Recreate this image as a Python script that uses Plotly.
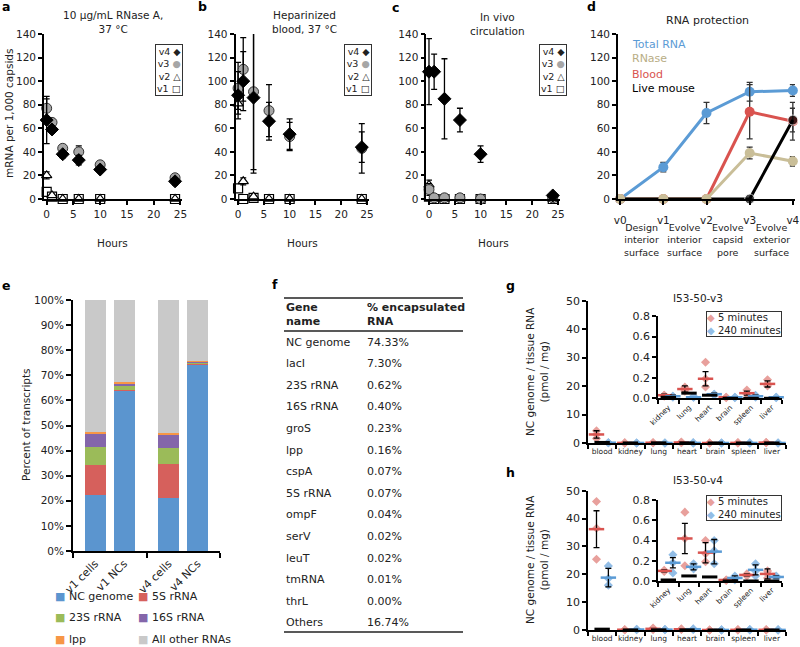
import plotly.graph_objects as go

FONT = "DejaVu Sans"
INK = "#222222"
W, H = 800, 647

# ---------------- a, b, c : mRNA per 1,000 capsids vs hours
hours = [0, 1, 3, 6, 10, 24]

a_v4 = [67, 59, 38, 33, 25, 15]
a_v4_err = [20, 3, 3, 4, 2, 3]
a_v3 = [77, 65, 43, 40, 29, 18]
a_v3_err = [8, 3, 3, 5, 2, 2]
a_v2 = [20, 3, 0, 0, 0, 0]
a_v2_err = [3, 1, 0, 0, 0, 0]
a_v1 = [6, 2, 0, 0, 0, 0]
a_v1_err = [1, 1, 0, 0, 0, 0]

b_v4 = [88, 100, 86, 66, 55, 44]
b_v4_err = [20, 25, 64, 16, 13, 13]
b_v3 = [94, 110, 91, 75, 53, 43]
b_v3_err = [22, 27, 66, 22, 12, 21]
b_v2 = [81, 15, 2, 0, 0, 0]
b_v2_err = [5, 3, 1, 0, 0, 0]
b_v1 = [9, 0, 1, 0, 0, 0]
b_v1_err = [1, 1, 1, 0, 0, 0]

c_v4 = [108, 108, 85, 67, 38, 3]
c_v4_err = [28, 15, 34, 10, 7, 1]
c_v3 = [8, 1, 1, 1, 0, 1]
c_v3_err = [5, 3, 3, 3, 3, 1]
c_v2 = [12, 0, 0, 0, 0, 0]
c_v2_err = [4, 0, 0, 0, 0, 0]
c_v1 = [2, 0, 0, 0, 0, 0]
c_v1_err = [1, 0, 0, 0, 0, 0]

# ---------------- d : RNA protection
stages = ["v0", "v1", "v2", "v3", "v4"]
d_steps = ["Design<br>interior<br>surface", "Evolve<br>interior<br>surface",
           "Evolve<br>capsid<br>pore", "Evolve<br>exterior<br>surface"]
d_total = [0, 27, 73, 91, 92]
d_total_err = [0, 4, 9, 8, 5]
d_rnase = [0, 0, 0, 39, 32]
d_rnase_err = [0, 0, 0, 5, 4]
d_blood = [0, 0, 0, 74, 66]
d_blood_err = [0, 0, 0, 23, 16]
d_mouse = [0, 0, 0, 0, 67]
d_mouse_err = [0, 0, 0, 0, 10]

# ---------------- e : percent of transcripts
e_samples = ["v1 cells", "v1 NCs", "v4 cells", "v4 NCs"]
e_nc_genome = [22.5, 64.1, 21.3, 74.3]
e_5s = [11.8, 0.2, 13.2, 0.3]
e_23s = [7.0, 1.5, 6.7, 0.5]
e_16s = [5.5, 0.6, 5.2, 0.3]
e_lpp = [0.7, 1.0, 0.5, 0.2]
e_other = [52.5, 32.6, 53.1, 24.4]

# ---------------- f : table
f_genes = ["NC genome", "lacI", "23S rRNA", "16S rRNA", "groS", "lpp", "cspA",
           "5S rRNA", "ompF", "serV", "leuT", "tmRNA", "thrL", "Others"]
f_pct = [74.33, 7.30, 0.62, 0.40, 0.23, 0.16, 0.07, 0.07, 0.04, 0.02, 0.02,
         0.01, 0.00, 16.74]

# ---------------- g, h : biodistribution
tissues = ["blood", "kidney", "lung", "heart", "brain", "spleen", "liver"]

g_5_mean = [3.0, 0.03, 0.09, 0.19, 0.01, 0.05, 0.14]
g_5_err = [1.3, 0.01, 0.03, 0.07, 0.005, 0.02, 0.03]
g_5_pts = [[4.3, 1.6, 3.0], [0.03, 0.02, 0.03], [0.11, 0.07, 0.09],
           [0.35, 0.19, 0.11], [0.01, 0.005, 0.01], [0.08, 0.05, 0.04],
           [0.18, 0.14, 0.12]]
g_240_mean = [0.1, 0.02, 0.01, 0.04, 0.01, 0.02, 0.01]
g_240_err = [0.05, 0.01, 0.005, 0.01, 0.005, 0.01, 0.005]
g_240_pts = [[0.1, 0.1, 0.1], [0.02, 0.01, 0.02], [0.01, 0.01, 0.02],
             [0.04, 0.03, 0.04], [0.01, 0.01, 0.005], [0.03, 0.01, 0.02],
             [0.01, 0.01, 0.005]]
g_ctrl = [0.2, 0.01, 0.05, 0.03, 0.0, 0.0, 0.0]

h_5_mean = [36.2, 0.10, 0.42, 0.28, 0.01, 0.06, 0.07]
h_5_err = [6.6, 0.01, 0.15, 0.10, 0.005, 0.01, 0.05]
h_5_pts = [[46.1, 36.5, 25.4], [0.10, 0.095, 0.105], [0.68, 0.42, 0.15],
           [0.40, 0.27, 0.19], [0.01, 0.01, 0.005], [0.07, 0.06, 0.05],
           [0.10, 0.07, 0.03]]
h_240_mean = [18.8, 0.18, 0.14, 0.29, 0.03, 0.11, 0.04]
h_240_err = [3.3, 0.05, 0.03, 0.12, 0.02, 0.05, 0.01]
h_240_pts = [[23.0, 18.5, 16.1], [0.26, 0.18, 0.08], [0.17, 0.12, 0.14],
             [0.40, 0.30, 0.17], [0.05, 0.01, 0.03], [0.17, 0.10, 0.05],
             [0.05, 0.03, 0.04]]
h_ctrl = [0.3, 0.01, 0.05, 0.04, 0.0, 0.0, 0.0]


def px(x):
    return x / W


def py(y):
    return (H - y) / H


def note(text, x, y, size=10.5, xanchor="center", yanchor="middle", **kw):
    d = dict(text=text, x=px(x), y=py(y), xref="paper", yref="paper",
             showarrow=False, xanchor=xanchor, yanchor=yanchor,
             font=dict(family=FONT, size=size, color=kw.pop("color", INK)))
    d.update(kw)
    return d


def errs(arr, color="black"):
    return dict(type="data", array=arr, visible=True, color=color,
                thickness=1.3, width=3)


fig = go.Figure()

# ---- a, b, c
variant_style = {
    "v4": dict(symbol="diamond", color="black", size=10, line=dict(color="black", width=1)),
    "v3": dict(symbol="circle", color="#A6A6A6", size=10, line=dict(color="#333333", width=1)),
    "v2": dict(symbol="triangle-up", color="white", size=9, line=dict(color="black", width=1.2)),
    "v1": dict(symbol="square", color="white", size=9, line=dict(color="black", width=1.2)),
}
time_panels = [
    ("x", "y", [("v1", a_v1, a_v1_err), ("v2", a_v2, a_v2_err),
                ("v3", a_v3, a_v3_err), ("v4", a_v4, a_v4_err)]),
    ("x2", "y2", [("v1", b_v1, b_v1_err), ("v2", b_v2, b_v2_err),
                  ("v3", b_v3, b_v3_err), ("v4", b_v4, b_v4_err)]),
    ("x3", "y3", [("v1", c_v1, c_v1_err), ("v2", c_v2, c_v2_err),
                  ("v3", c_v3, c_v3_err), ("v4", c_v4, c_v4_err)]),
]
for xa, ya, series in time_panels:
    for name, vals, err in series:
        fig.add_trace(go.Scatter(
            x=hours, y=vals, mode="markers", name=name, xaxis=xa, yaxis=ya,
            marker=variant_style[name], error_y=errs(err), cliponaxis=False))

# ---- d
BLUE, TAN, RED = "#5B9BD5", "#C9BE98", "#D9534F"
d_x = list(range(len(stages)))
fig.add_trace(go.Scatter(x=d_x, y=d_total, mode="lines+markers", xaxis="x4", yaxis="y4",
                         line=dict(color=BLUE, width=3), marker=dict(color=BLUE, size=10),
                         error_y=errs(d_total_err, "#333333"), cliponaxis=False))
fig.add_trace(go.Scatter(x=d_x, y=d_blood, mode="lines+markers", xaxis="x4", yaxis="y4",
                         line=dict(color=RED, width=3), marker=dict(color=RED, size=10),
                         error_y=errs(d_blood_err, "#333333"), cliponaxis=False))
fig.add_trace(go.Scatter(x=d_x, y=d_rnase, mode="lines", xaxis="x4", yaxis="y4",
                         line=dict(color=TAN, width=3), cliponaxis=False))
fig.add_trace(go.Scatter(x=d_x, y=d_mouse, mode="lines+markers", xaxis="x4", yaxis="y4",
                         line=dict(color="black", width=3),
                         marker=dict(color="black", size=[0, 0, 0, 10, 10]),
                         error_y=errs(d_mouse_err, "#333333"), cliponaxis=False))
fig.add_trace(go.Scatter(x=d_x, y=d_rnase, mode="markers", xaxis="x4", yaxis="y4",
                         marker=dict(color=TAN, size=10),
                         error_y=errs(d_rnase_err, "#333333"), cliponaxis=False))

# ---- e
e_names = ["NC genome", "5S rRNA", "23S rRNA", "16S rRNA", "lpp", "All other RNAs"]
e_colors = ["#5B95CF", "#D6605C", "#9BBB59", "#8466AA", "#F79646", "#C9C9C9"]
e_values = [e_nc_genome, e_5s, e_23s, e_16s, e_lpp, e_other]
e_x = [grp + 0.5 + side * 0.197 for grp in (0, 1) for side in (-1, 1)]
for name, vals, col in zip(e_names, e_values, e_colors):
    fig.add_trace(go.Bar(x=e_x, y=vals, name=name, xaxis="x5", yaxis="y5",
                         width=0.286, marker=dict(color=col, line=dict(width=0))))

# ---- g, h
LRED, LBLUE = "#E8A09C", "#92BDE6"
OFF_5, OFF_240, OFF_C = 0.3, 0.72, 0.5


def organ_traces(xa, ya, idx, m5, e5, p5, m240, e240, p240, ctrl):
    pos = range(len(idx))
    for off, pts, col in ((OFF_5, p5, LRED), (OFF_240, p240, LBLUE)):
        xs, ys = [], []
        for k, i in zip(pos, idx):
            xs += [k + off] * len(pts[i])
            ys += pts[i]
        fig.add_trace(go.Scatter(x=xs, y=ys, mode="markers", xaxis=xa, yaxis=ya,
                                 marker=dict(symbol="diamond", size=7, color=col),
                                 cliponaxis=False))
    for off, m, e, col in ((OFF_5, m5, e5, RED), (OFF_240, m240, e240, BLUE)):
        fig.add_trace(go.Scatter(
            x=[k + off for k in pos], y=[m[i] for i in idx], mode="markers",
            xaxis=xa, yaxis=ya, cliponaxis=False,
            marker=dict(symbol="line-ew", size=11, line=dict(color=col, width=2.5)),
            error_y=errs([e[i] for i in idx])))
    fig.add_trace(go.Scatter(
        x=[k + OFF_C for k in pos], y=[ctrl[i] for i in idx], mode="markers",
        xaxis=xa, yaxis=ya, cliponaxis=False,
        marker=dict(symbol="line-ew", size=11, line=dict(color="black", width=3))))


all_idx = list(range(len(tissues)))
inset_idx = all_idx[1:]
organ_traces("x6", "y6", all_idx, g_5_mean, g_5_err, g_5_pts, g_240_mean, g_240_err, g_240_pts, g_ctrl)
organ_traces("x7", "y7", inset_idx, g_5_mean, g_5_err, g_5_pts, g_240_mean, g_240_err, g_240_pts, g_ctrl)
organ_traces("x8", "y8", all_idx, h_5_mean, h_5_err, h_5_pts, h_240_mean, h_240_err, h_240_pts, h_ctrl)
organ_traces("x9", "y9", inset_idx, h_5_mean, h_5_err, h_5_pts, h_240_mean, h_240_err, h_240_pts, h_ctrl)

# ---------------- axes
base = dict(showline=True, linecolor="black", linewidth=1.8, ticks="outside",
            ticklen=4, tickwidth=1.5, tickcolor="black", showgrid=False,
            zeroline=False, automargin=False,
            tickfont=dict(family=FONT, size=10.5, color=INK))


def ax(**kw):
    d = dict(base)
    d.update(kw)
    return d


minor_ticks = dict(ticks="outside", tick0=0, dtick=1, ticklen=4, tickwidth=1.5,
                   tickcolor="black")
abc_y = [py(199), py(34)]
layout_axes = dict(
    xaxis=ax(domain=[px(44), px(182)], range=[-0.5, 25.3], tickvals=[0, 5, 10, 15, 20, 25], anchor="y"),
    yaxis=ax(domain=abc_y, range=[0, 140], dtick=20, anchor="x"),
    xaxis2=ax(domain=[px(235.5), px(368.5)], range=[-0.5, 25.3], tickvals=[0, 5, 10, 15, 20, 25], anchor="y2"),
    yaxis2=ax(domain=abc_y, range=[0, 140], dtick=20, anchor="x2"),
    xaxis3=ax(domain=[px(426.4), px(559.5)], range=[-0.5, 25.3], tickvals=[0, 5, 10, 15, 20, 25], anchor="y3"),
    yaxis3=ax(domain=abc_y, range=[0, 140], dtick=20, anchor="x3"),
    xaxis4=ax(domain=[px(618), px(795)], range=[-0.05, 4.05], tickvals=d_x, ticktext=stages,
              ticklabelstandoff=6, anchor="y4"),
    yaxis4=ax(domain=abc_y, range=[0, 140], dtick=20, anchor="x4"),
    xaxis5=ax(domain=[px(73), px(220)], range=[0, 2], tickvals=e_x, ticktext=e_samples,
              ticks="", tickangle=-45, minor=dict(minor_ticks, ticklen=5),
              tickfont=dict(family=FONT, size=11, color=INK), anchor="y5"),
    yaxis5=ax(domain=[py(551), py(300)], range=[0, 100], dtick=10, ticksuffix="%",
              ticklen=5, anchor="x5"),
    xaxis6=ax(domain=[px(588), px(786)], range=[0, 7], tickvals=[i + 0.5 for i in all_idx],
              ticktext=tissues, ticks="", minor=minor_ticks,
              tickfont=dict(family=FONT, size=7.5, color=INK), anchor="y6"),
    yaxis6=ax(domain=[py(443), py(300.7)], range=[0, 50], dtick=10, anchor="x6",
              tickfont=dict(family=FONT, size=11, color=INK)),
    xaxis7=ax(domain=[px(658), px(782)], range=[0, 6], tickvals=[k + 0.5 for k in range(6)],
              ticktext=tissues[1:], ticks="", tickangle=-45, minor=minor_ticks,
              tickfont=dict(family=FONT, size=7.5, color=INK), anchor="y7"),
    yaxis7=ax(domain=[py(398.3), py(316)], range=[0, 0.8], dtick=0.2, tickformat=".1f",
              anchor="x7", tickfont=dict(family=FONT, size=11, color=INK)),
    xaxis8=ax(domain=[px(588), px(786)], range=[0, 7], tickvals=[i + 0.5 for i in all_idx],
              ticktext=tissues, ticks="", minor=minor_ticks,
              tickfont=dict(family=FONT, size=7.5, color=INK), anchor="y8"),
    yaxis8=ax(domain=[py(630), py(490.7)], range=[0, 50], dtick=10, anchor="x8",
              tickfont=dict(family=FONT, size=11, color=INK)),
    xaxis9=ax(domain=[px(658), px(782)], range=[0, 6], tickvals=[k + 0.5 for k in range(6)],
              ticktext=tissues[1:], ticks="", tickangle=-45, minor=minor_ticks,
              tickfont=dict(family=FONT, size=7.5, color=INK), anchor="y9"),
    yaxis9=ax(domain=[py(581), py(500)], range=[0, 0.8], dtick=0.2, tickformat=".1f",
              anchor="x9", tickfont=dict(family=FONT, size=11, color=INK)),
)

# ---------------- annotations & shapes
ann = []
shapes = []

# panel letters
for letter, x, y in [("a", 0, 7), ("b", 196, 7), ("c", 390, 8), ("d", 585, 7),
                     ("e", 0, 285), ("f", 270, 284), ("g", 504, 286), ("h", 504, 473)]:
    ann.append(note("<b>%s</b>" % letter, x, y, size=12.5, xanchor="left", color="black"))

# a-c titles, axis titles, legends, arrows
ann.append(note("10 μg/mL RNase A,<br>37 °C", 113, 22))
ann.append(note("Heparinized<br>blood, 37 °C", 304, 22))
ann.append(note("In vivo<br>circulation", 497, 24))
for xc in (113, 302, 493):
    ann.append(note("Hours", xc, 243))
ann.append(note("mRNA per 1,000 capsids", 9, 114, textangle=-90))

legend_txt = "<br>".join([
    "v4 ◆", "v3 <span style='color:#A6A6A6'>●</span>", "v2 △", "v1 □"])
for xr in (183, 372, 567):
    ann.append(note(legend_txt, xr, 44, size=9.5, xanchor="right", yanchor="top",
                    align="right", bordercolor="#333333", borderwidth=1, borderpad=1,
                    bgcolor="white"))
for xa, ya, col in (("x", "y", "#B5A46E"), ("x2", "y2", "#E0655E"), ("x3", "y3", "black")):
    ann.append(dict(x=6, y=-5.5, xref=xa, yref=ya, ax=0, ay=15, text="", showarrow=True,
                    arrowhead=2, arrowsize=1, arrowwidth=2.5, arrowcolor=col))

# d
ann.append(note("RNA protection", 707, 21, size=11))
for i, (name, col) in enumerate([("Total RNA", BLUE), ("RNase", "#B8AD85"),
                                  ("Blood", RED), ("Live mouse", "black")]):
    ann.append(note(name, 630, 44 + 15 * i, size=11, xanchor="left", color=col))
for k, step in enumerate(d_steps):
    ann.append(dict(x=k + 0.5, y=-10.5, xref="x4", yref="y4", ax=0, ay=11, text="",
                    showarrow=True, arrowhead=2, arrowsize=1, arrowwidth=2,
                    arrowcolor="black"))
    ann.append(dict(text=step, x=k + 0.5, y=py(240), xref="x4", yref="paper",
                    showarrow=False, font=dict(family=FONT, size=9.5, color=INK)))

# e
ann.append(note("Percent of transcripts", 26, 425, textangle=-90))
for i, (name, col) in enumerate(zip(e_names, e_colors)):
    xl = 53 if i % 2 == 0 else 136
    yl = 596 + 21.5 * (i // 2)
    ann.append(note("<span style='color:%s'>■</span> %s" % (col, name), xl, yl,
                    size=11, xanchor="left"))

# f table
T_L, T_R, C2 = 284, 463, 365
ann.append(note("<b>Gene<br>name</b>", T_L, 314.5, size=11, xanchor="left", align="left"))
ann.append(note("<b>% encapsulated<br>RNA</b>", C2, 314.5, size=11, xanchor="left", align="left"))
for i, (gname, pct) in enumerate(zip(f_genes, f_pct)):
    yy = 342 + 21.6 * i
    ann.append(note(gname, T_L, yy, size=11, xanchor="left"))
    ann.append(note("%.2f%%" % pct, C2, yy, size=11, xanchor="left"))
for yy in (298, 331, 632):
    shapes.append(dict(type="line", xref="paper", yref="paper", x0=px(T_L), x1=px(T_R),
                       y0=py(yy), y1=py(yy), line=dict(color="#222222", width=1.5)))

# g, h
for title, ty, ly, yc in (("I53-50-v3", 297.7, 311.5, 372), ("I53-50-v4", 480, 495, 560)):
    ann.append(note(title, 698, ty, size=10.5))
    ann.append(note("<span style='color:%s'>◆</span> 5 minutes<br>"
                    "<span style='color:%s'>◆</span> 240 minutes" % (LRED, LBLUE),
                    782, ly, size=10, xanchor="right", yanchor="top", align="left",
                    bordercolor="#333333", borderwidth=1, borderpad=0, bgcolor="white"))
    ann.append(note("NC genome / tissue RNA<br>(pmol / mg)", 537, yc, size=10.5,
                    textangle=-90))

fig.update_layout(
    width=W, height=H,
    margin=dict(l=0, r=0, t=0, b=0, autoexpand=False),
    paper_bgcolor="white", plot_bgcolor="rgba(0,0,0,0)",
    showlegend=False, barmode="stack",
    font=dict(family=FONT, size=10.5, color=INK),
    annotations=ann, shapes=shapes,
    **layout_axes,
)

# the page body has a default 8px margin; drop it so the figure sits at the origin
fig.write_html("out.html", config={"displayModeBar": False},
               post_script="document.body.style.margin='0';"
                           "document.body.style.overflow='hidden';")
